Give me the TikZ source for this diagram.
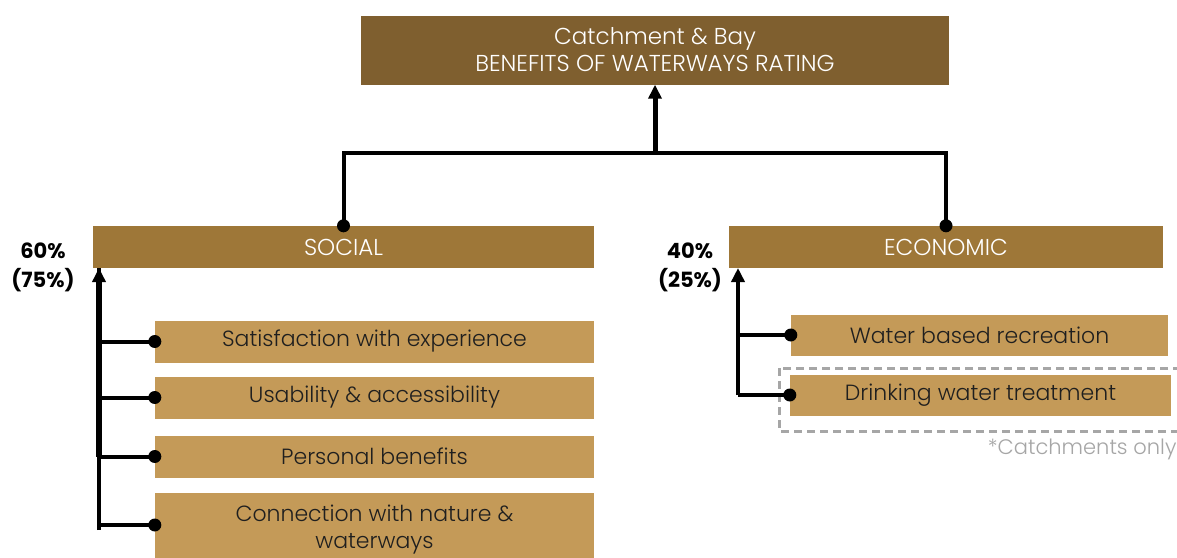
\documentclass[tikz,border=0pt]{standalone}
\usepackage{fontspec}
\setmainfont{Poppins}
\newfontfamily\lightfont{Poppins Light}
\usepackage{xcolor}
\usetikzlibrary{arrows.meta}

\definecolor{darkbrown}{HTML}{7F5F2F}
\definecolor{midbrown}{HTML}{9E7738}
\definecolor{lightbrown}{HTML}{C49A58}
\definecolor{dashgray}{HTML}{A6A6A6}

\tikzset{
  headbox/.style={fill=darkbrown, text=white, inner sep=0pt, align=center,
    font=\lightfont\fontsize{23}{27}\selectfont},
  groupbox/.style={fill=midbrown, text=white, inner sep=0pt, minimum height=42pt,
    font=\lightfont\fontsize{23}{26}\selectfont},
  itembox/.style={fill=lightbrown, text=black!88, inner sep=0pt, align=center,
    font=\lightfont\fontsize{22}{27}\selectfont},
  pct/.style={font=\bfseries\fontsize{21}{29}\selectfont, align=center, inner sep=0pt},
  link/.style={line width=4pt},
  uparrow/.style={line width=4pt, -{Triangle[length=14pt,width=13pt]}},
  dot/.style={fill=black}
}

\begin{document}
\begin{tikzpicture}[x=1pt,y=-1pt]

% Fix the page size
\useasboundingbox[fill=white] (0,0) rectangle (1177,557);

% Define coordinates for easier positioning
\coordinate (joint) at (655,153);
\coordinate (sspine) at (99,268);
\coordinate (espine) at (738,268);

% Draw the boxes
\node[headbox, minimum width=588pt, minimum height=69pt] (rating) at (655,50)
  {Catchment \& Bay\\BENEFITS OF WATERWAYS RATING};
\node[groupbox, minimum width=501pt] (social) at (343.5,247) {SOCIAL};
\node[groupbox, minimum width=434pt] (economic) at (946,247) {ECONOMIC};

\node[itembox, minimum width=439pt, minimum height=42pt] (sat) at (374.5,341.5) {Satisfaction with experience};
\node[itembox, minimum width=439pt, minimum height=42pt] (usab) at (374.5,397.5) {Usability \& accessibility};
\node[itembox, minimum width=439pt, minimum height=42pt] (pers) at (374.5,456.5) {Personal benefits};
\node[itembox, minimum width=439pt, minimum height=75pt] (conn) at (374.5,530) {Connection with nature \&\\waterways};

\node[itembox, minimum width=377pt, minimum height=41pt] (recr) at (979.5,335) {Water based recreation};
\node[itembox, minimum width=381pt, minimum height=41pt] (drink) at (980.5,395) {Drinking water treatment};

% Dashed frame round the catchment-only item
\draw[dashgray, line width=3pt, dash pattern=on 8pt off 5pt] (779,368) rectangle (1190,431);
\node[text=dashgray, anchor=east, font=\lightfont\fontsize{21}{24}\selectfont] (note) at (1180,449) {*Catchments only};

% Add the weights
\node[pct] (spct) at (43,267) {60\%\\(75\%)};
\node[pct] (epct) at (690,267) {40\%\\(25\%)};

% Top connectors
\draw[link] (social.north) |- (joint) -| (economic.north);
\draw[line width=5pt, -{Triangle[length=14pt,width=13pt]}] (joint) -- (rating.south);
\fill[dot] (social.north) circle (6.5pt);
\fill[dot] (economic.north) circle (6.5pt);

% Social spine and branches
\draw[link] (conn.west -| sspine) -- (sspine);
\draw[line width=6pt, -{Triangle[length=14pt,width=13pt]}] (pers.west -| sspine) -- (sspine);
\foreach \item in {sat,usab,pers} {
  \draw[link] (\item.west -| sspine) -- (\item.west);
  \fill[dot] (\item.west) circle (6.5pt);
}
\draw[link] (sspine |- 0,525) -- (conn.west |- 0,525);
\fill[dot] (conn.west |- 0,525) circle (6.5pt);

% Economic spine and branches
\draw[uparrow] (drink.west -| espine) -- (espine);
\foreach \item in {recr,drink} {
  \draw[link] (\item.west -| espine) -- (\item.west);
  \fill[dot] (\item.west) circle (6.5pt);
}

\end{tikzpicture}
\end{document}
